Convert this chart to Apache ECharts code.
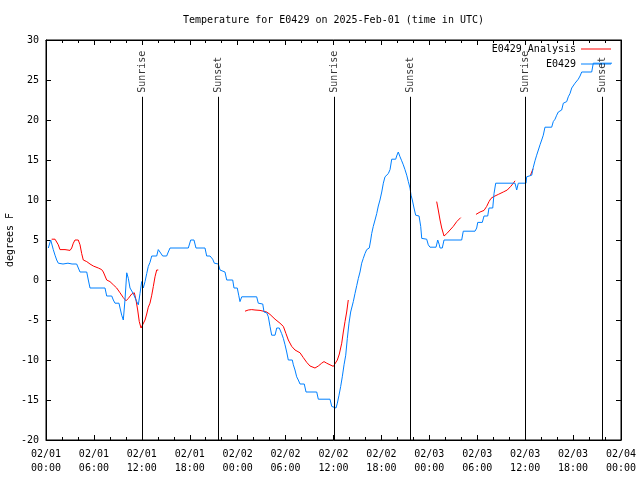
<!DOCTYPE html>
<html>
<head>
<meta charset="utf-8">
<script src="https://cdn.jsdelivr.net/npm/echarts@6/dist/echarts.min.js"></script>
<style>html,body{margin:0;padding:0;background:#fff}#c{width:640px;height:480px}</style>
</head>
<body>
<div id="c"></div>
<script>
// hours since 2025-02-01 00:00 UTC, temperature in degrees F
var obsHours = [0.29,0.59,0.91,1.13,1.34,1.54,2.13,2.75,3.26,3.84,4.26,5.10,5.30,5.51,7.39,7.60,8.23,8.43,8.64,9.14,9.27,9.48,9.68,9.89,10.11,10.31,10.52,10.73,10.93,11.14,11.36,11.56,11.77,11.98,12.18,12.40,12.61,12.81,13.02,13.24,13.86,14.06,14.27,14.61,15.11,15.31,15.53,17.82,18.12,18.53,18.78,19.91,20.12,20.54,20.87,21.08,21.58,21.79,22.41,22.63,23.38,23.54,23.95,24.13,24.29,24.51,26.38,26.58,27.14,27.30,27.64,27.84,28.05,28.26,28.68,28.89,29.21,29.51,29.72,29.93,30.14,30.34,30.84,30.97,31.18,31.39,31.59,31.81,32.34,32.56,33.90,34.10,35.56,35.78,36.31,36.48,36.69,36.90,37.10,37.32,37.53,37.73,37.94,38.15,38.48,38.69,38.91,39.11,39.32,39.53,39.73,39.94,40.16,40.48,40.66,40.78,40.98,41.20,41.41,41.61,41.82,42.04,42.24,42.45,42.66,42.86,43.08,43.29,43.79,43.91,44.11,44.33,44.54,44.74,44.95,45.17,45.37,45.58,45.71,45.87,46.08,46.29,46.71,46.92,47.05,47.67,47.87,48.08,48.84,49.05,49.25,49.34,49.62,49.84,52.05,52.25,53.72,53.93,54.06,54.63,54.85,55.31,55.47,55.94,56.10,56.31,58.73,58.94,59.14,60.11,60.19,60.82,61.02,61.23,61.44,61.65,61.86,62.07,62.27,62.48,63.32,63.52,63.74,63.95,64.15,64.57,64.78,65.20,65.40,65.61,65.83,66.03,66.24,66.45,66.65,66.87,67.08,68.33,68.53,70.87];
var obsTemps = [4.0,5.0,3.8,3.1,2.5,2.1,2.0,2.1,2.0,2.0,1.0,1.0,0.0,-1.0,-1.0,-2.0,-2.0,-2.5,-2.9,-2.9,-3.5,-4.4,-5.0,-2.5,0.9,0.2,-1.0,-1.0,-1.7,-1.7,-2.7,-3.1,-1.7,-0.2,-1.0,-0.2,0.8,1.7,2.2,3.0,3.0,3.8,3.5,3.0,3.0,3.5,4.0,4.0,5.0,5.0,4.0,4.0,3.0,3.0,2.6,2.1,2.0,1.25,1.0,0.0,0.0,-1.0,-1.0,-1.9,-2.7,-2.1,-2.1,-2.9,-3.0,-4.0,-4.1,-4.6,-5.8,-6.9,-6.9,-6.0,-6.0,-6.7,-7.3,-8.1,-9.0,-10.0,-10.0,-10.6,-11.25,-12.1,-12.5,-13.0,-13.0,-14.0,-14.0,-14.9,-14.9,-15.8,-16.0,-15.4,-14.4,-13.3,-12.1,-10.6,-9.4,-7.3,-5.4,-4.0,-2.7,-1.7,-0.7,0.2,1.0,2.1,2.7,3.3,3.8,4.0,5.0,5.8,6.7,7.5,8.3,9.25,10.0,11.0,12.1,12.9,13.1,13.3,13.8,15.1,15.1,15.5,16.0,15.4,14.9,14.4,13.8,13.1,12.3,11.5,10.6,10.0,9.0,8.1,8.0,6.7,5.2,5.1,4.4,4.1,4.1,5.0,4.4,4.0,4.0,5.0,5.0,6.1,6.1,6.5,7.2,7.2,8.0,8.0,9.0,9.0,10.8,12.1,12.1,11.25,12.1,12.1,12.9,13.1,14.1,14.9,15.6,16.25,16.9,17.5,18.1,19.1,19.1,19.8,20.1,20.6,21.0,21.25,22.1,22.3,22.9,23.3,24.0,24.0,24.6,24.8,25.1,25.5,26.0,26.0,27.1,27.1];

// analysis segments: [hour, temp]
var anaSeg1 = [[0.71,5.1],[1.13,5.1],[1.54,4.4],[1.75,3.8],[2.38,3.8],[3.01,3.7],[3.22,4.0],[3.42,4.6],[3.63,5.0],[4.04,5.0],[4.26,4.4],[4.47,3.3],[4.67,2.5],[5.10,2.3],[5.51,2.0],[5.92,1.75],[6.55,1.5],[6.97,1.3],[7.18,1.0],[7.39,0.5],[7.60,0.0],[8.01,-0.2],[8.43,-0.6],[8.85,-1.0],[9.27,-1.6],[9.68,-2.2],[10.02,-2.6],[10.31,-2.3],[10.73,-1.75],[11.06,-1.6],[11.27,-2.5],[11.48,-3.75],[11.68,-5.2],[11.90,-6.0],[12.11,-5.9],[12.40,-5.0],[12.61,-4.25],[12.81,-3.4],[13.02,-2.9],[13.24,-1.9],[13.44,-0.8],[13.65,0.4],[13.86,1.25],[14.06,1.25]];
var anaSeg2 = [[24.92,-3.9],[25.33,-3.75],[25.76,-3.7],[26.17,-3.75],[26.80,-3.8],[27.64,-4.0],[28.05,-4.3],[28.68,-4.9],[29.30,-5.4],[29.72,-5.8],[30.05,-6.7],[30.34,-7.5],[30.77,-8.3],[31.18,-8.75],[31.81,-9.1],[32.22,-9.7],[32.65,-10.3],[33.06,-10.75],[33.68,-11.0],[34.10,-10.75],[34.52,-10.4],[34.81,-10.2],[35.15,-10.4],[35.56,-10.6],[35.98,-10.8],[36.19,-10.6],[36.48,-10.0],[36.73,-9.25],[37.03,-7.9],[37.23,-6.5],[37.44,-5.2],[37.65,-4.0],[37.85,-2.5]];
var anaSeg3 = [[48.92,9.8],[49.12,8.75],[49.34,7.5],[49.55,6.5],[49.84,5.5],[50.18,5.8],[50.59,6.25],[51.00,6.7],[51.43,7.3],[51.93,7.8]];
var anaSeg4 = [[53.84,8.2],[54.35,8.5],[54.85,8.7],[55.18,9.2],[55.47,9.8],[55.72,10.2],[56.01,10.4],[56.64,10.7],[57.26,11.0],[57.76,11.25],[58.19,11.7],[58.52,12.1],[58.73,12.4]];
var anaSeg5 = [[60.67,13.1],[60.98,13.9]];

var sunHours = [12.1, 21.6, 36.09, 45.62, 60.07, 69.64];
var sunNames = ['Sunrise','Sunset','Sunrise','Sunset','Sunrise','Sunset'];

var xTickLabels = ['02/01\n00:00','02/01\n06:00','02/01\n12:00','02/01\n18:00','02/02\n00:00','02/02\n06:00','02/02\n12:00','02/02\n18:00','02/03\n00:00','02/03\n06:00','02/03\n12:00','02/03\n18:00','02/04\n00:00'];

var FONT = 'DejaVu Sans Mono';
var obsData = obsHours.map(function(h,i){return [h, obsTemps[i]];});
var segs = [anaSeg1, anaSeg2, anaSeg3, anaSeg4, anaSeg5];
var anaData = [];
segs.forEach(function(s, i){
  if (i > 0) anaData.push([s[0][0] - 0.01, '-']);
  anaData = anaData.concat(s);
});
var sunTop = 22.9;

var chart = echarts.init(document.getElementById('c'), null, {renderer:'canvas'});
var tickBase = {inside:true, length:5, lineStyle:{color:'#000'}};
chart.setOption({
  animation:false,
  backgroundColor:'#fff',
  textStyle:{fontFamily:FONT},
  graphic:[
    {type:'text', x:333.5, y:20, style:{text:'Temperature for E0429 on 2025-Feb-01 (time in UTC)', font:'10px "DejaVu Sans Mono"', fill:'#000', textAlign:'center', textVerticalAlign:'middle'}},
    {type:'text', x:10, y:240, rotation:Math.PI/2, style:{text:'degrees F', font:'10px "DejaVu Sans Mono"', fill:'#000', textAlign:'center', textVerticalAlign:'middle'}}
  ],
  grid:{left:46, right:19, top:40, bottom:40, show:true, borderColor:'#000', borderWidth:1, backgroundColor:'transparent', containLabel:false, outerBoundsMode:'none'},
  legend:[
    {data:['E0429 Analysis'], right:29, top:44, orient:'vertical', align:'right', icon:'rect', itemWidth:30, itemHeight:1, textStyle:{fontFamily:FONT, fontSize:10, color:'#000'}, selectedMode:false, padding:0},
    {data:['E0429'], right:29, top:59, orient:'vertical', align:'right', icon:'rect', itemWidth:30, itemHeight:1, textStyle:{fontFamily:FONT, fontSize:10, color:'#000'}, selectedMode:false, padding:0}
  ],
  xAxis:[
    {type:'value', min:0, max:72, interval:6, position:'bottom',
     axisLine:{show:true, onZero:false, lineStyle:{color:'#000'}}, axisTick:tickBase,
     minorTick:{show:true, splitNumber:3, length:3, lineStyle:{color:'#000'}},
     splitLine:{show:false},
     axisLabel:{color:'#000', fontFamily:FONT, fontSize:10, lineHeight:14, margin:7, formatter:function(v){return xTickLabels[Math.round(v/6)];}}},
    {type:'value', min:0, max:72, interval:6, position:'top',
     axisLine:{show:true, onZero:false, lineStyle:{color:'#000'}}, axisTick:tickBase,
     minorTick:{show:true, splitNumber:3, length:3, lineStyle:{color:'#000'}},
     splitLine:{show:false}, axisLabel:{show:false}}
  ],
  yAxis:[
    {type:'value', min:-20, max:30, interval:5, position:'left',
     axisLine:{show:true, onZero:false, lineStyle:{color:'#000'}}, axisTick:tickBase, splitLine:{show:false},
     axisLabel:{color:'#000', fontFamily:FONT, fontSize:10, margin:7}},
    {type:'value', min:-20, max:30, interval:5, position:'right',
     axisLine:{show:true, onZero:false, lineStyle:{color:'#000'}}, axisTick:tickBase, splitLine:{show:false},
     axisLabel:{show:false}}
  ],
  series:[
    {name:'E0429 Analysis', type:'line', data:anaData, showSymbol:false, symbol:'none', connectNulls:false,
     lineStyle:{color:'#ff0000', width:1}, itemStyle:{color:'#ff0000'}, z:2},
    {name:'E0429', type:'line', data:obsData, showSymbol:false, symbol:'none',
     lineStyle:{color:'#0080ff', width:1}, itemStyle:{color:'#0080ff'}, z:3,
     markLine:{silent:true, symbol:'none', animation:false,
       lineStyle:{color:'#000', width:1, type:'solid'}, label:{show:false},
       data:sunHours.map(function(h){return [{coord:[h,-20]},{coord:[h,sunTop]}];})}},
    {name:'sun', type:'scatter', symbolSize:0, silent:true, z:4,
     data:sunHours.map(function(h,i){return {name:sunNames[i], value:[h,sunTop]};}),
     label:{show:true, position:'top', distance:4, rotate:90, align:'left', verticalAlign:'middle',
       formatter:function(p){return p.name;}, color:'#000', fontFamily:FONT, fontSize:10}}
  ]
});
</script>
</body>
</html>
